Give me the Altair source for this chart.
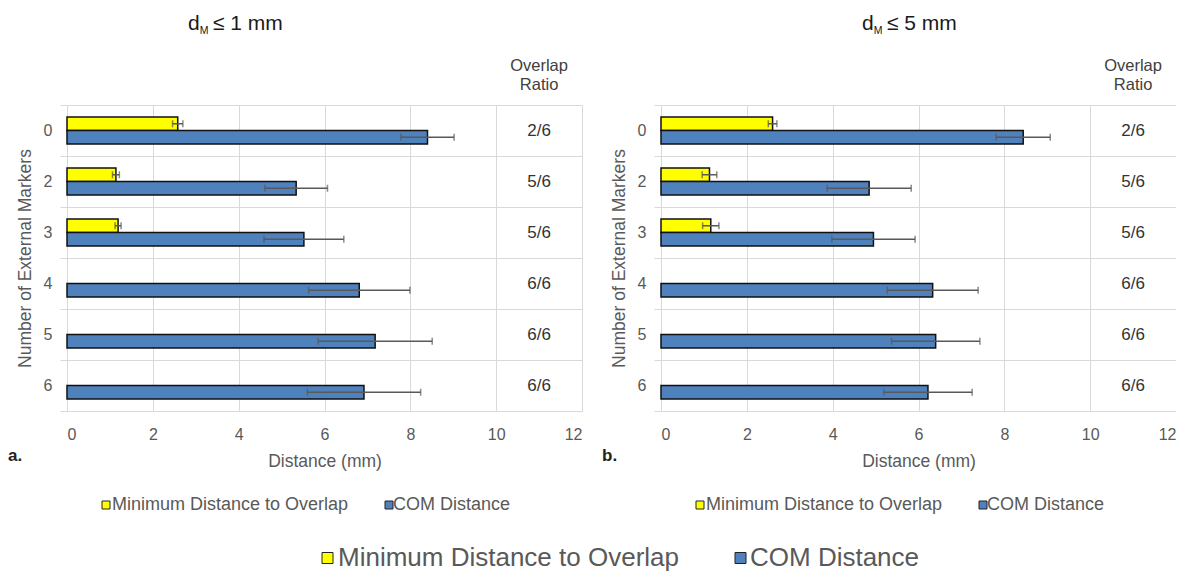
import altair as alt
import pandas as pd

categories = ["0", "2", "3", "4", "5", "6"]
series_names = ["Minimum Distance to Overlap", "COM Distance"]
series_colors = ["#FFFF00", "#4F81BD"]
x_ticks = [0, 2, 4, 6, 8, 10, 12]

# Panel a: d_M <= 1 mm
a_min_vals = [2.58, 1.14, 1.19]
a_min_errs = [0.12, 0.08, 0.07]
a_com_vals = [8.40, 5.34, 5.52, 6.81, 7.18, 6.92]
a_com_errs = [0.62, 0.73, 0.93, 1.18, 1.33, 1.32]
a_ratios = ["2/6", "5/6", "5/6", "6/6", "6/6", "6/6"]

# Panel b: d_M <= 5 mm
b_min_vals = [2.60, 1.13, 1.16]
b_min_errs = [0.10, 0.17, 0.19]
b_com_vals = [8.44, 4.85, 4.95, 6.33, 6.40, 6.22]
b_com_errs = [0.63, 0.98, 0.97, 1.06, 1.03, 1.03]
b_ratios = ["2/6", "5/6", "5/6", "6/6", "6/6", "6/6"]

FONT = "Liberation Sans"
GRAY = "#595959"
GRID = "#d9d9d9"
W, H = 515, 306


def text_at(t, x, y, size, color=GRAY, weight="normal", align="left", baseline="middle"):
    return alt.Chart(pd.DataFrame({"t": [t]})).mark_text(
        fontSize=size, color=color, fontWeight=weight, align=align, baseline=baseline, font=FONT
    ).encode(x=alt.value(x), y=alt.value(y), text="t:N")


def square_at(x, y, side, fill):
    return alt.Chart(pd.DataFrame({"k": [0]})).mark_square(
        size=side * side, color=fill, filled=True, opacity=1, stroke="#222222", strokeWidth=1
    ).encode(x=alt.value(x), y=alt.value(y))


def legend_items(xs1, xt1, xs2, xt2, y, side, size):
    return [
        square_at(xs1, y, side, series_colors[0]),
        text_at(series_names[0], xt1, y, size),
        square_at(xs2, y, side, series_colors[1]),
        text_at(series_names[1], xt2, y, size),
    ]


def panel(min_vals, min_errs, com_vals, com_errs, ratios, limit, letter, title_x, big_legend):
    rows = []
    for c, v, e in zip(categories, min_vals, min_errs):
        rows.append({"markers": c, "series": series_names[0], "value": v, "err": e})
    for c, v, e in zip(categories, com_vals, com_errs):
        rows.append({"markers": c, "series": series_names[1], "value": v, "err": e})
    df = pd.DataFrame(rows)

    xscale = alt.Scale(domain=[0, 12], nice=False, zero=True)
    yenc = alt.Y(
        "markers:N",
        sort=categories,
        scale=alt.Scale(domain=categories, paddingInner=0, paddingOuter=0),
        axis=alt.Axis(
            title="Number of External Markers",
            titleFontSize=17.5,
            titleColor=GRAY,
            titleFontWeight="normal",
            titleFont=FONT,
            titlePadding=9,
            labelFontSize=16,
            labelColor=GRAY,
            labelFont=FONT,
            labelPadding=8,
            labelAngle=0,
            tickSize=7,
            tickColor=GRID,
            tickBand="extent",
            domain=False,
            grid=True,
            gridColor=GRID,
        ),
    )
    yoff = alt.YOffset(
        "series:N",
        sort=series_names,
        scale=alt.Scale(domain=series_names, paddingInner=0, paddingOuter=0.89),
    )
    base = alt.Chart(df).encode(y=yenc, yOffset=yoff)

    bars = base.mark_bar(stroke="#111111", strokeWidth=1.5).encode(
        x=alt.X(
            "value:Q",
            scale=xscale,
            axis=alt.Axis(
                values=x_ticks,
                grid=True,
                gridColor=GRID,
                ticks=False,
                domain=True,
                domainColor=GRID,
                labelFontSize=16,
                labelColor=GRAY,
                labelFont=FONT,
                labelPadding=15,
                title="Distance (mm)",
                titleFontSize=17.5,
                titleColor=GRAY,
                titleFontWeight="normal",
                titleFont=FONT,
                titlePadding=10,
            ),
        ),
        color=alt.Color(
            "series:N", scale=alt.Scale(domain=series_names, range=series_colors), legend=None
        ),
    )
    eb = base.transform_calculate(
        lo="datum.value - datum.err", hi="datum.value + datum.err"
    )
    err_rule = eb.mark_rule(color=GRAY, strokeWidth=1.5).encode(
        x=alt.X("lo:Q", scale=xscale), x2="hi:Q"
    )
    cap_lo = eb.mark_tick(color=GRAY, thickness=1.5, size=7).encode(x=alt.X("lo:Q", scale=xscale))
    cap_hi = eb.mark_tick(color=GRAY, thickness=1.5, size=7).encode(x=alt.X("hi:Q", scale=xscale))

    rdf = pd.DataFrame({"markers": categories, "ratio": ratios})
    ratio_text = alt.Chart(rdf).mark_text(fontSize=17, color="#333333", font=FONT).encode(
        x=alt.datum(11, scale=xscale),
        y=alt.Y("markers:N", sort=categories),
        text="ratio:N",
    )

    overlap_x = W * 11 / 12
    layers = [
        bars,
        err_rule,
        cap_lo,
        cap_hi,
        ratio_text,
        text_at("Overlap", overlap_x, -39, 16.5, color="#404040", align="center"),
        text_at("Ratio", overlap_x, -20, 16.5, color="#404040", align="center"),
        text_at("d", title_x, -75, 21, color="#1a1a1a", baseline="alphabetic"),
        text_at("M", title_x + 11.7, -71, 10.5, color="#1a1a1a", baseline="alphabetic"),
        text_at("\u2264 " + limit + " mm", title_x + 25, -75, 21, color="#1a1a1a", baseline="alphabetic"),
        text_at(letter, -59, 351, 17, color="#222222", weight="bold"),
    ]
    layers += legend_items(39, 45, 322, 326, 400, 8, 18)
    if big_legend:
        layers += legend_items(260.5, 271, 673.5, 683, 453, 11, 26)
    return alt.layer(*layers).properties(width=W, height=H)


pa = panel(a_min_vals, a_min_errs, a_com_vals, a_com_errs, a_ratios, "1", "a.", 121, True)
pb = panel(b_min_vals, b_min_errs, b_com_vals, b_com_errs, b_ratios, "5", "b.", 201, False)

chart = (
    alt.hconcat(pa, pb, spacing=79, bounds="flush")
    .properties(padding={"left": 0, "top": 5, "right": 0, "bottom": 0})
    .configure(font=FONT)
    .configure_view(stroke=None)
)

chart.save("out.html", embed_options={"renderer": "svg", "actions": False})
